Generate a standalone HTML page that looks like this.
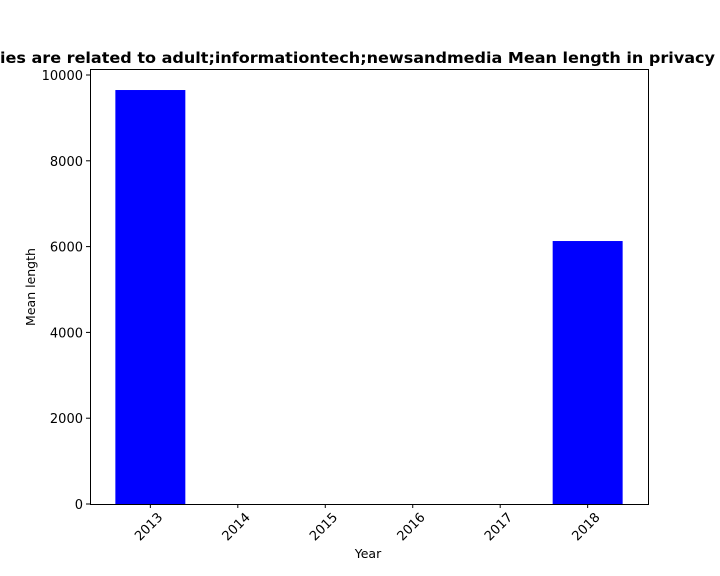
<!DOCTYPE html>
<html><head><meta charset="utf-8"><style>
body{margin:0;background:#fff;}
svg{display:block;font-family:"DejaVu Sans","Liberation Sans",sans-serif;}
</style></head><body>
<svg id="chart" width="720" height="576">
<text x="0" y="63" font-size="15" font-weight="bold" textLength="715" lengthAdjust="spacingAndGlyphs">ies are related to adult;informationtech;newsandmedia Mean length in privacy</text>
<g id="bars"></g>
<rect x="90.5" y="69.5" width="558" height="435" fill="none" stroke="#000" stroke-width="1"/>
<g id="xticks"></g><g id="yticks"></g>
<text x="368" y="558" font-size="12.5" text-anchor="middle">Year</text>
<text transform="translate(35,287) rotate(-90)" font-size="12.5" text-anchor="middle">Mean length</text>
</svg>
<script>
const categories=["2013","2014","2015","2016","2017","2018"];
const values=[9650,0,0,0,0,6130];
const yTicks=[0,2000,4000,6000,8000,10000];
const L=90,R=648,T=69,B=504,yMax=10140;
const xMin=-0.69,xMax=5.69;
const xs=v=>L+(v-xMin)/(xMax-xMin)*(R-L);
const ys=v=>B-v/yMax*(B-T);
const NS="http://www.w3.org/2000/svg";
const bars=document.getElementById('bars'),xt=document.getElementById('xticks'),yt=document.getElementById('yticks');
categories.forEach((c,i)=>{
 const r=document.createElementNS(NS,'rect');
 const x0=xs(i-0.4),x1=xs(i+0.4);
 r.setAttribute('x',x0);r.setAttribute('width',x1-x0);
 r.setAttribute('y',ys(values[i]));r.setAttribute('height',B-ys(values[i]));
 r.setAttribute('fill','#0000ff');
 
 
 bars.appendChild(r);
 const cx=xs(i);
 const l=document.createElementNS(NS,'line');
 l.setAttribute('x1',cx);l.setAttribute('x2',cx);l.setAttribute('y1',B);l.setAttribute('y2',B+4);l.setAttribute('stroke','#000');
 
 
 xt.appendChild(l);
 const t=document.createElementNS(NS,'text');
 t.setAttribute('font-size','13');t.setAttribute('text-anchor','end');
 t.setAttribute('transform',`translate(${cx+13},${B+14}) rotate(-45)`);
 t.textContent=c;
 
 
 xt.appendChild(t);
});
yTicks.forEach(v=>{
 const y=ys(v);
 const l=document.createElementNS(NS,'line');
 l.setAttribute('x1',L-4);l.setAttribute('x2',L);l.setAttribute('y1',y);l.setAttribute('y2',y);l.setAttribute('stroke','#000');
 
 
 yt.appendChild(l);
 const t=document.createElementNS(NS,'text');
 t.setAttribute('x',L-7);t.setAttribute('y',y+5);t.setAttribute('font-size','13');t.setAttribute('text-anchor','end');
 t.textContent=v;
 
 
 yt.appendChild(t);
});
</script>
</body></html>
